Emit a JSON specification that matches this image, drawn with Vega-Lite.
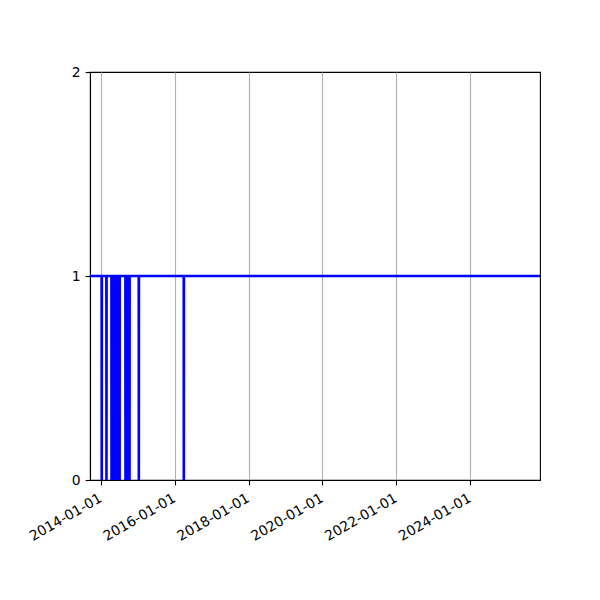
{
  "$schema": "https://vega.github.io/schema/vega-lite/v6.json",
  "autosize": "none",
  "width": 450,
  "height": 408,
  "padding": {"left": 90, "top": 72, "right": 60, "bottom": 120},
  "background": "white",
  "config": {
    "view": {"stroke": "black", "strokeWidth": 1.1},
    "font": "DejaVu Sans",
    "axis": {
      "labelFont": "DejaVu Sans",
      "labelFontSize": 13.9,
      "labelColor": "black",
      "domainColor": "black",
      "domainWidth": 1.1,
      "tickColor": "black",
      "tickWidth": 1.1,
      "tickSize": 4.9,
      "labelPadding": 4.9,
      "title": null
    }
  },
  "data": {
    "values": [
      {"date": "2013-09-16", "value": 1},
      {"date": "2014-01-09", "value": 1},
      {"date": "2014-01-10", "value": 0},
      {"date": "2014-01-11", "value": 1},
      {"date": "2014-02-25", "value": 1},
      {"date": "2014-02-26", "value": 0},
      {"date": "2014-02-27", "value": 1},
      {"date": "2014-04-16", "value": 1},
      {"date": "2014-04-17", "value": 0},
      {"date": "2014-04-18", "value": 1},
      {"date": "2014-04-24", "value": 1},
      {"date": "2014-04-25", "value": 0},
      {"date": "2014-04-26", "value": 1},
      {"date": "2014-05-02", "value": 1},
      {"date": "2014-05-03", "value": 0},
      {"date": "2014-05-04", "value": 1},
      {"date": "2014-05-10", "value": 1},
      {"date": "2014-05-11", "value": 0},
      {"date": "2014-05-12", "value": 1},
      {"date": "2014-05-18", "value": 1},
      {"date": "2014-05-19", "value": 0},
      {"date": "2014-05-20", "value": 1},
      {"date": "2014-05-26", "value": 1},
      {"date": "2014-05-27", "value": 0},
      {"date": "2014-05-28", "value": 1},
      {"date": "2014-06-03", "value": 1},
      {"date": "2014-06-04", "value": 0},
      {"date": "2014-06-05", "value": 1},
      {"date": "2014-06-11", "value": 1},
      {"date": "2014-06-12", "value": 0},
      {"date": "2014-06-13", "value": 1},
      {"date": "2014-06-19", "value": 1},
      {"date": "2014-06-20", "value": 0},
      {"date": "2014-06-21", "value": 1},
      {"date": "2014-06-27", "value": 1},
      {"date": "2014-06-28", "value": 0},
      {"date": "2014-06-29", "value": 1},
      {"date": "2014-07-05", "value": 1},
      {"date": "2014-07-06", "value": 0},
      {"date": "2014-07-07", "value": 1},
      {"date": "2014-09-01", "value": 1},
      {"date": "2014-09-02", "value": 0},
      {"date": "2014-09-03", "value": 1},
      {"date": "2014-09-09", "value": 1},
      {"date": "2014-09-10", "value": 0},
      {"date": "2014-09-11", "value": 1},
      {"date": "2014-09-17", "value": 1},
      {"date": "2014-09-18", "value": 0},
      {"date": "2014-09-19", "value": 1},
      {"date": "2014-09-25", "value": 1},
      {"date": "2014-09-26", "value": 0},
      {"date": "2014-09-27", "value": 1},
      {"date": "2014-10-03", "value": 1},
      {"date": "2014-10-04", "value": 0},
      {"date": "2014-10-05", "value": 1},
      {"date": "2014-10-11", "value": 1},
      {"date": "2014-10-12", "value": 0},
      {"date": "2014-10-13", "value": 1},
      {"date": "2015-01-11", "value": 1},
      {"date": "2015-01-12", "value": 0},
      {"date": "2015-01-13", "value": 1},
      {"date": "2016-03-31", "value": 1},
      {"date": "2016-04-01", "value": 0},
      {"date": "2016-04-02", "value": 1},
      {"date": "2025-11-23", "value": 1}
    ]
  },
  "mark": {"type": "line", "color": "#0000ff", "strokeWidth": 2.6, "clip": true},
  "encoding": {
    "x": {
      "field": "date",
      "type": "temporal",
      "scale": {"type": "utc", "domain": [{"year": 2013, "month": 9, "date": 16, "utc": true}, {"year": 2025, "month": 11, "date": 23, "utc": true}], "nice": false},
      "axis": {
        "format": "%Y-%m-%d",
        "tickCount": {"interval": "year", "step": 2},
        "grid": true,
        "gridColor": "#b0b0b0",
        "gridWidth": 1.1,
        "labelAngle": -30,
        "labelAlign": "right",
        "labelBaseline": "top",
        "labelOverlap": false,
        "labelFlush": false,
        "labelOffset": -4,
        "labelPadding": 6
      }
    },
    "y": {
      "field": "value",
      "type": "quantitative",
      "scale": {"domain": [0, 2], "nice": false, "zero": true},
      "axis": {"values": [0, 1, 2], "format": ".0f", "grid": false, "labelOverlap": false, "labelFlush": false}
    }
  }
}
